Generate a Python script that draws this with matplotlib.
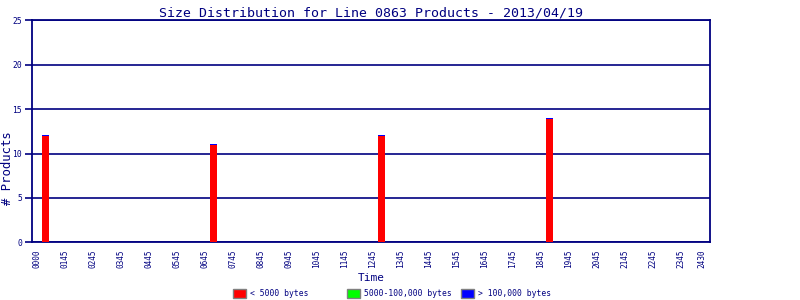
import matplotlib
matplotlib.use('Agg')
from matplotlib import pyplot as plt
from matplotlib.patches import Rectangle

# Data
tick_labels = ['0000', '0145', '0245', '0345', '0445', '0545', '0645', '0745',
               '0845', '0945', '1045', '1145', '1245', '1345', '1445', '1545',
               '1645', '1745', '1845', '1945', '2045', '2145', '2245', '2345',
               '2430']
tick_pos = list(range(24)) + [23.75]
bar_times = [0.3, 6.3, 12.3, 18.3]
small = [12.0, 11.0, 12.0, 13.9]
medium = [0.0, 0.0, 0.0, 0.0]
large = [0.1, 0.1, 0.1, 0.1]
series_names = ['< 5000 bytes', '5000-100,000 bytes', '> 100,000 bytes']
series_colors = ['#ff0000', '#00ff00', '#0000ff']

navy = '#000080'
mono = 'DejaVu Sans Mono'

fig = plt.figure(figsize=(8, 3), dpi=100)
ax = fig.add_axes([0.0396, 0.1923, 0.848, 0.74])

w = 0.24
ax.bar(bar_times, small, width=w, color=series_colors[0], zorder=3)
ax.bar(bar_times, medium, width=w, bottom=small, color=series_colors[1], zorder=3)
tops = [s + m for s, m in zip(small, medium)]
ax.bar(bar_times, large, width=w, bottom=tops, color=series_colors[2], zorder=3)

ax.set_xlim(-0.2, 24.05)
ax.set_ylim(0, 25)
ax.set_yticks([0, 5, 10, 15, 20, 25])
ax.set_xticks(tick_pos)
ax.set_xticklabels(tick_labels, rotation=90, fontsize=5.6, family=mono, color=navy)
ax.tick_params(axis='y', labelsize=5.8, labelcolor=navy, color=navy,
               length=5, width=1.2, pad=2)
for lab in ax.get_yticklabels():
    lab.set_family(mono)
ax.tick_params(axis='x', length=0, pad=5)
ax.yaxis.grid(True, color=navy, linewidth=1.2, zorder=1)
for s in ax.spines.values():
    s.set_color(navy)
    s.set_linewidth(1.3)

ax.set_title('Size Distribution for Line 0863 Products - 2013/04/19',
             fontsize=9.5, family=mono, color=navy, pad=3)
fig.text(0.009, 0.44, '# Products', rotation=90, fontsize=8.8, family=mono,
         color=navy, ha='center', va='center')
ax.set_xlabel('Time', fontsize=8, family=mono, color=navy, labelpad=4)

# legend along the bottom
for i, (name, col) in enumerate(zip(series_names, series_colors)):
    x0 = (233 + 114 * i) / 800.0
    fig.patches.append(Rectangle((x0, 2 / 300.0), 13 / 800.0, 9 / 300.0,
                                 transform=fig.transFigure, facecolor=col,
                                 edgecolor='#808080', linewidth=1))
    fig.text(x0 + 17 / 800.0, 6.5 / 300.0, name, fontsize=5.8, family=mono,
             color=navy, ha='left', va='center')

fig.savefig('out.png', dpi=100)
